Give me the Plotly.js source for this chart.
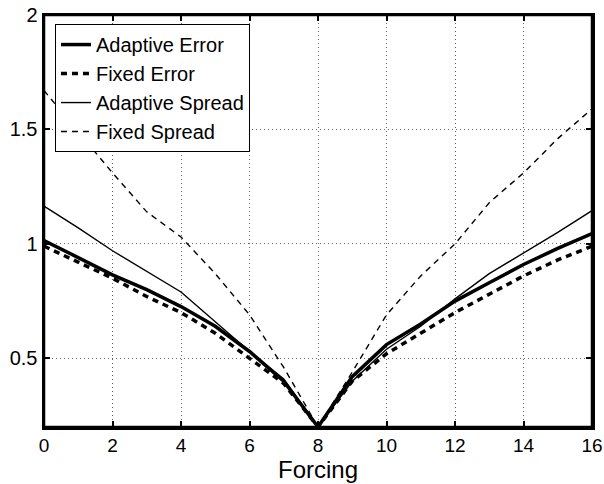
<!DOCTYPE html>
<html>
<head>
<meta charset="utf-8">
<script src="https://cdn.plot.ly/plotly-3.0.1.min.js"></script>
<style>body{margin:0;padding:0;background:#fff;}#chart{width:604px;height:484px;}</style>
</head>
<body>
<div id="chart"></div>
<script>
const forcing = [0,1,2,3,4,5,6,7,8,9,10,11,12,13,14,15,16];
const adaptiveError  = [1.015,0.94,0.865,0.80,0.726,0.64,0.53,0.40,0.2,0.42,0.56,0.65,0.75,0.83,0.91,0.98,1.045];
const fixedError     = [0.99,0.92,0.85,0.77,0.70,0.61,0.50,0.39,0.2,0.40,0.52,0.61,0.70,0.78,0.86,0.93,0.99];
const adaptiveSpread = [1.165,1.07,0.97,0.88,0.79,0.66,0.53,0.41,0.2,0.40,0.54,0.64,0.76,0.87,0.96,1.05,1.145];
const fixedSpread    = [1.67,1.49,1.31,1.14,1.03,0.87,0.69,0.46,0.2,0.44,0.69,0.86,1.0,1.18,1.31,1.46,1.59];
const xTicks = [0,2,4,6,8,10,12,14,16];
const yTicks = [0.5,1,1.5,2];
const yTickText = ['0.5','1','1.5','2'];
const xTitle = 'Forcing';

const FONT = 'Liberation Sans, Arial, Helvetica, sans-serif';

const traces = [
  {x: forcing, y: adaptiveError, name: 'Adaptive Error', mode: 'lines', line: {color: '#000', width: 3.5}},
  {x: forcing, y: fixedError, name: 'Fixed Error', mode: 'lines', line: {color: '#000', width: 3.5, dash: '6px,5px'}},
  {x: forcing, y: adaptiveSpread, name: 'Adaptive Spread', mode: 'lines', line: {color: '#000', width: 1.4}},
  {x: forcing, y: fixedSpread, name: 'Fixed Spread', mode: 'lines', line: {color: '#000', width: 1.4, dash: '6px,5px'}}
];

const axisCommon = {
  showline: true, linecolor: '#000', linewidth: 2.5, mirror: 'ticks',
  ticks: 'inside', ticklen: 6, tickwidth: 2, tickcolor: '#000',
  showgrid: true, gridcolor: '#666', gridwidth: 1, griddash: '1px,3px',
  zeroline: false, layer: 'above traces',
  tickfont: {family: FONT, size: 20, color: '#000'}
};

const layout = {
  width: 604, height: 484,
  margin: {l: 44, r: 12, t: 15, b: 57},
  paper_bgcolor: '#fff', plot_bgcolor: '#fff',
  showlegend: true,
  legend: {
    x: 0.02, y: 0.978, xanchor: 'left', yanchor: 'top',
    bgcolor: '#fff', bordercolor: '#000', borderwidth: 1,
    font: {family: FONT, size: 20, color: '#000'},
    tracegroupgap: 0, itemwidth: 30
  },
  xaxis: Object.assign({}, axisCommon, {
    range: [0, 16], tickvals: xTicks, ticktext: xTicks.map(String), ticklabelstandoff: 0,
    tickfont: {family: FONT, size: 19, color: '#000'}
  }),
  yaxis: Object.assign({}, axisCommon, {
    range: [0.2, 2], tickvals: yTicks, ticktext: yTickText
  }),
  annotations: [{text: xTitle, xref: 'paper', yref: 'paper', x: 0.5, y: -0.102,
                 xanchor: 'center', yanchor: 'middle', showarrow: false,
                 font: {family: FONT, size: 24, color: '#000'}}],
  shapes: [{type: 'rect', xref: 'paper', yref: 'paper', x0: 0, x1: 1, y0: 0, y1: 1,
            line: {color: '#000', width: 2.5}, layer: 'above'}]
};

Plotly.newPlot('chart', traces, layout, {displayModeBar: false, staticPlot: true});
</script>
</body>
</html>
